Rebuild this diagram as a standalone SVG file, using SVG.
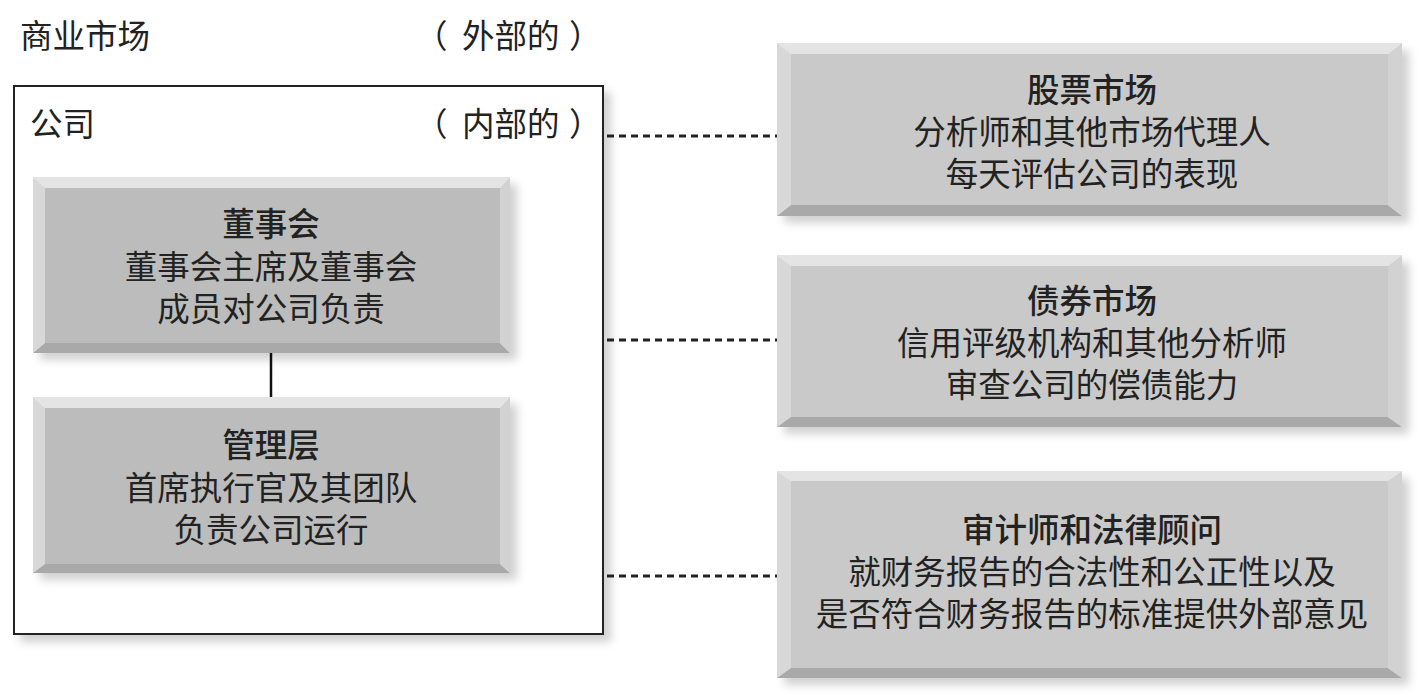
<svg xmlns="http://www.w3.org/2000/svg" width="1428" height="697" viewBox="0 0 1428 697">
<style>
  text { font-family: "Noto Sans CJK SC", "Noto Sans", sans-serif; font-size: 32.5px; fill: #222; }
  .c { text-anchor: middle; }
  .t { font-weight: 500; }
  .bt { fill: #e4e4e4; }
  .bl { fill: #d8d8d8; }
  .bb { fill: #a9a9a9; }
  .br { fill: #d2d2d2; }
  .fl { fill: #bcbcbc; }
  .fr { fill: #c9c9c9; }
  .dash { stroke: #222; stroke-width: 3; stroke-dasharray: 7 5; fill: none; }
  .solid { stroke: #111; stroke-width: 2.5; fill: none; }
</style>
<defs>
  <filter id="sh" x="-5%" y="-5%" width="115%" height="120%">
    <feDropShadow dx="7" dy="7" stdDeviation="4" flood-color="#000" flood-opacity="0.18"/>
  </filter>
</defs>
<rect width="1428" height="697" fill="#fff"/>

<g id="market">
  <text x="20" y="48">商业市场</text>
  <text x="415" y="48">（<tspan x="462">外部的</tspan><tspan x="569">）</tspan></text>
</g>

<g id="company">
  <rect x="14" y="86" width="589" height="548" fill="#fff" stroke="#222" stroke-width="2" filter="url(#sh)"/>
  <text x="30" y="136">公司</text>
  <text x="415" y="136">（<tspan x="462">内部的</tspan><tspan x="569">）</tspan></text>
</g>

<g id="connectors">
  <line class="solid" x1="271" y1="353" x2="271" y2="397"/>
  <line class="dash" x1="607" y1="136" x2="777" y2="136"/>
  <line class="dash" x1="607" y1="340" x2="777" y2="340"/>
  <line class="dash" x1="607" y1="576" x2="777" y2="576"/>
</g>

<g id="board">
  <g filter="url(#sh)">
    <polygon class="bt" points="33,177 510,177 500,188 45,188"/>
    <polygon class="bl" points="33,177 45,188 45,343 33,353"/>
    <polygon class="bb" points="33,353 45,343 500,343 510,353"/>
    <polygon class="br" points="510,177 510,353 500,343 500,188"/>
    <rect class="fl" x="45" y="188" width="455" height="155"/>
  </g>
  <text class="c t" x="271" y="236">董事会</text>
  <text class="c" x="271" y="279">董事会主席及董事会</text>
  <text class="c" x="271" y="321">成员对公司负责</text>
</g>

<g id="management">
  <g filter="url(#sh)">
    <polygon class="bt" points="33,397 510,397 500,408 45,408"/>
    <polygon class="bl" points="33,397 45,408 45,564 33,573"/>
    <polygon class="bb" points="33,573 45,564 500,564 510,573"/>
    <polygon class="br" points="510,397 510,573 500,564 500,408"/>
    <rect class="fl" x="45" y="408" width="455" height="156"/>
  </g>
  <text class="c t" x="271" y="457">管理层</text>
  <text class="c" x="271" y="500">首席执行官及其团队</text>
  <text class="c" x="271" y="542">负责公司运行</text>
</g>

<g id="stock">
  <g filter="url(#sh)">
    <polygon class="bt" points="777,43 1402,43 1388,54 791,54"/>
    <polygon class="bl" points="777,43 791,54 791,205 777,216"/>
    <polygon class="bb" points="777,216 791,205 1388,205 1402,216"/>
    <polygon class="br" points="1402,43 1402,216 1388,205 1388,54"/>
    <rect class="fr" x="791" y="54" width="597" height="151"/>
  </g>
  <text class="c t" x="1092" y="102">股票市场</text>
  <text class="c" x="1092" y="144">分析师和其他市场代理人</text>
  <text class="c" x="1092" y="186">每天评估公司的表现</text>
</g>

<g id="bond">
  <g filter="url(#sh)">
    <polygon class="bt" points="777,255 1402,255 1388,266 791,266"/>
    <polygon class="bl" points="777,255 791,266 791,417 777,427"/>
    <polygon class="bb" points="777,427 791,417 1388,417 1402,427"/>
    <polygon class="br" points="1402,255 1402,427 1388,417 1388,266"/>
    <rect class="fr" x="791" y="266" width="597" height="151"/>
  </g>
  <text class="c t" x="1092" y="313">债券市场</text>
  <text class="c" x="1092" y="355">信用评级机构和其他分析师</text>
  <text class="c" x="1092" y="397">审查公司的偿债能力</text>
</g>

<g id="auditors">
  <g filter="url(#sh)">
    <polygon class="bt" points="777,471 1402,471 1388,481 791,481"/>
    <polygon class="bl" points="777,471 791,481 791,668 777,678"/>
    <polygon class="bb" points="777,678 791,668 1388,668 1402,678"/>
    <polygon class="br" points="1402,471 1402,678 1388,668 1388,481"/>
    <rect class="fr" x="791" y="481" width="597" height="187"/>
  </g>
  <text class="c t" x="1092" y="542">审计师和法律顾问</text>
  <text class="c" x="1092" y="584">就财务报告的合法性和公正性以及</text>
  <text class="c" x="1092" y="626">是否符合财务报告的标准提供外部意见</text>
</g>
</svg>
